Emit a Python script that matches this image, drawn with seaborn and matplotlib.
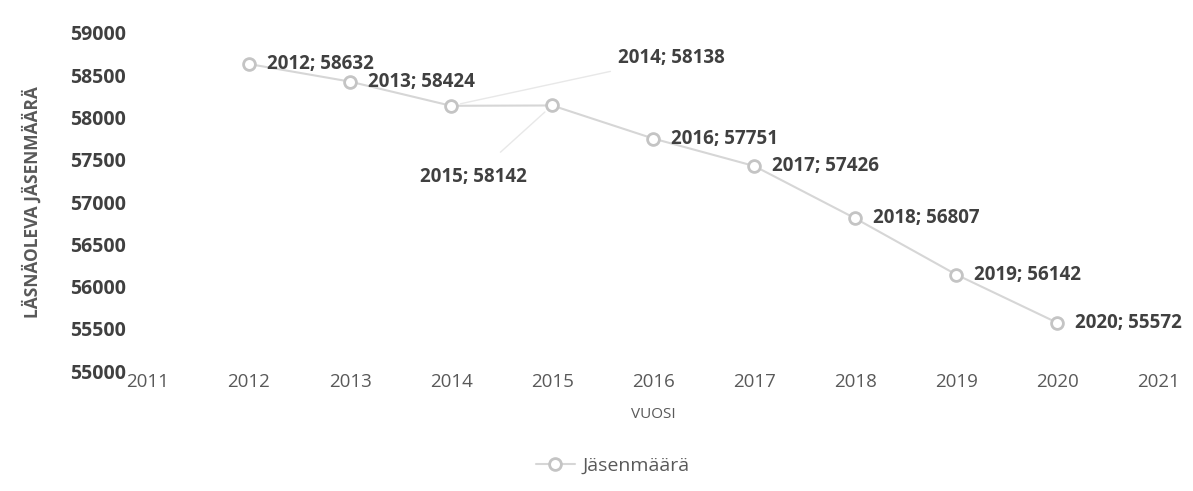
import pandas as pd
import matplotlib.pyplot as plt
import seaborn as sns

# Data
years = [2012, 2013, 2014, 2015, 2016, 2017, 2018, 2019, 2020]
members = [58632, 58424, 58138, 58142, 57751, 57426, 56807, 56142, 55572]
x_ticks = list(range(2011, 2022))
y_ticks = list(range(55000, 59001, 500))

df = pd.DataFrame({"Vuosi": years, "Jäsenmäärä": members})

sns.set_style("white")
plt.rcParams["font.family"] = ["Open Sans", "DejaVu Sans"]

fig = plt.figure(figsize=(11.93, 4.91), dpi=100)
ax = fig.add_axes([0.124, 0.244, 0.847, 0.689])

line_col = "#d6d6d6"
text_col = "#404040"

sns.lineplot(data=df, x="Vuosi", y="Jäsenmäärä", ax=ax, color=line_col, linewidth=1.5,
             marker="o", markersize=8.5, markerfacecolor="white", markeredgecolor="#c4c4c4",
             markeredgewidth=2, label="Jäsenmäärä")

# Data labels (2014 and 2015 moved off the line, with leader lines)
for yr, val in zip(years, members):
    label = f"{yr}; {val}"
    if yr == 2014:
        ax.annotate(label, xy=(yr, val), xytext=(2015.65, 58700), fontsize=13.5, fontweight="bold",
                    color=text_col, va="center", ha="left",
                    arrowprops=dict(arrowstyle="-", color="#e8e8e8", lw=1, shrinkA=3, shrinkB=7))
    elif yr == 2015:
        ax.annotate(label, xy=(yr, val), xytext=(2014.75, 57300), fontsize=13.5, fontweight="bold",
                    color=text_col, va="center", ha="right",
                    arrowprops=dict(arrowstyle="-", color="#e8e8e8", lw=1, shrinkA=12, shrinkB=7))
    else:
        ax.annotate(label, xy=(yr, val), xytext=(13, 0), textcoords="offset points",
                    fontsize=13.5, fontweight="bold", color=text_col, va="center", ha="left")

ax.set_xlim(2011, 2021)
ax.set_ylim(55000, 59000)
ax.set_xticks(x_ticks)
ax.set_yticks(y_ticks)
ax.set_xticklabels([str(t) for t in x_ticks], fontsize=13.5, color="#595959")
ax.set_yticklabels([str(t) for t in y_ticks], fontsize=14, fontweight="bold", color=text_col)
ax.tick_params(axis="y", length=0, pad=16)
ax.tick_params(axis="x", length=0, pad=1)
ax.set_xlabel("VUOSI", fontsize=11, color="#595959", labelpad=12)
ax.set_ylabel("LÄSNÄOLEVA JÄSENMÄÄRÄ", fontsize=12.5, fontweight="bold", color="#595959", labelpad=20)
sns.despine(ax=ax, left=True, bottom=True)

ax.legend(loc="center", bbox_to_anchor=(0.46, -0.28), frameon=False, fontsize=14,
          labelcolor="#595959", handlelength=2.0, handletextpad=0.4)

fig.savefig("out.png", dpi=100)
